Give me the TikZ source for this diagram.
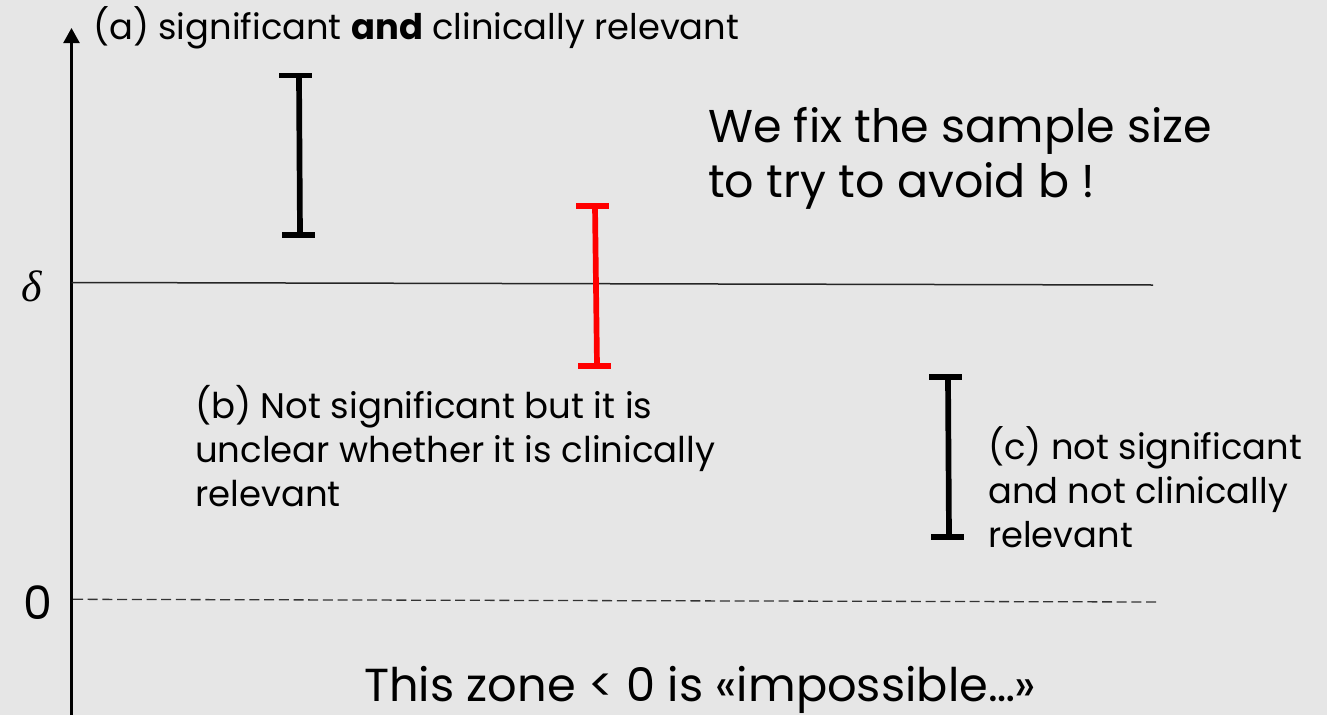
\documentclass[tikz,border=0pt]{standalone}
\usepackage{fontspec}
\setmainfont{Poppins}
\newfontfamily\deltafont{Liberation Serif}
\usetikzlibrary{arrows.meta}
\definecolor{bgc}{HTML}{E6E6E6}
\definecolor{redbar}{HTML}{FF0000}
\tikzset{
  axisline/.style={line width=2.3pt, draw=black, -{Triangle[length=15pt,width=16pt]}},
  deltaline/.style={line width=1.5pt, draw=black!85},
  zeroline/.style={line width=1.3pt, draw=black!80, dash pattern=on 10pt off 4.7pt},
  errbar/.style={line width=5.7pt, draw=black},
  lbl/.style={inner sep=0pt, anchor=base west, align=left, text=black},
}
\begin{document}
\begin{tikzpicture}[x=1pt,y=-1pt]
\fill[bgc] (0,0) rectangle (1327,715);
\useasboundingbox (0,0) rectangle (1327,715);

% axes
\coordinate (ybot) at (71.5,715);
\coordinate (ytop) at (71.5,28);
\draw[axisline] (ybot) -- (ytop);
\coordinate (dl) at (71.5,282.5);
\coordinate (dr) at (1153,285);
\draw[deltaline] (dl) -- (dr);
\coordinate (zl) at (73,599.3);
\coordinate (zr) at (1156,602);
\draw[zeroline] (zl) -- (zr);

% error bar a
\coordinate (at) at (299,75.5);
\coordinate (ab) at (300,235);
\coordinate (atl) at (279,75.5); \coordinate (atr) at (312,75.5);
\coordinate (abl) at (282,235); \coordinate (abr) at (315,235);
\draw[errbar] (at) -- (ab);
\draw[errbar] (atl) -- (atr);
\draw[errbar] (abl) -- (abr);

% error bar b (red)
\coordinate (bt) at (595,206);
\coordinate (bb) at (597,366);
\coordinate (btl) at (576,206); \coordinate (btr) at (609,206);
\coordinate (bbl) at (578,366); \coordinate (bbr) at (611,366);
\draw[errbar, draw=redbar] (bt) -- (bb);
\draw[errbar, draw=redbar] (btl) -- (btr);
\draw[errbar, draw=redbar] (bbl) -- (bbr);

% error bar c
\coordinate (ct) at (948,377);
\coordinate (cb) at (949,537);
\coordinate (ctl) at (929,377); \coordinate (ctr) at (962,377);
\coordinate (cbl) at (931,537); \coordinate (cbr) at (964,537);
\draw[errbar] (ct) -- (cb);
\draw[errbar] (ctl) -- (ctr);
\draw[errbar] (cbl) -- (cbr);

% labels (base anchor = baseline of the last line)
\node[lbl, font=\fontsize{35.3}{40}\selectfont] (la) at (93,39) {(a) significant \textbf{and} clinically relevant};
\node[lbl, font=\fontsize{46}{55}\selectfont] (lfix) at (708,197) {We fix the sample size\\to try to avoid b !};
\node[lbl, font=\fontsize{35.5}{44}\selectfont] (lb) at (195,506) {(b) Not significant but it is\\unclear whether it is clinically\\relevant};
\node[lbl, font=\fontsize{35.3}{44}\selectfont] (lc) at (988,547) {(c) not significant\\and not clinically\\relevant};
\node[lbl, font=\fontsize{46.3}{55}\selectfont] (lz) at (364,701) {This zone < 0 is «impossible…»};
\node[inner sep=0pt, anchor=base, font=\fontsize{44}{50}\deltafont\itshape] (ldelta) at (32,301) {δ};
\node[inner sep=0pt, anchor=base, font=\fontsize{46}{55}\selectfont] (lzero) at (38,619) {0};
\end{tikzpicture}
\end{document}
